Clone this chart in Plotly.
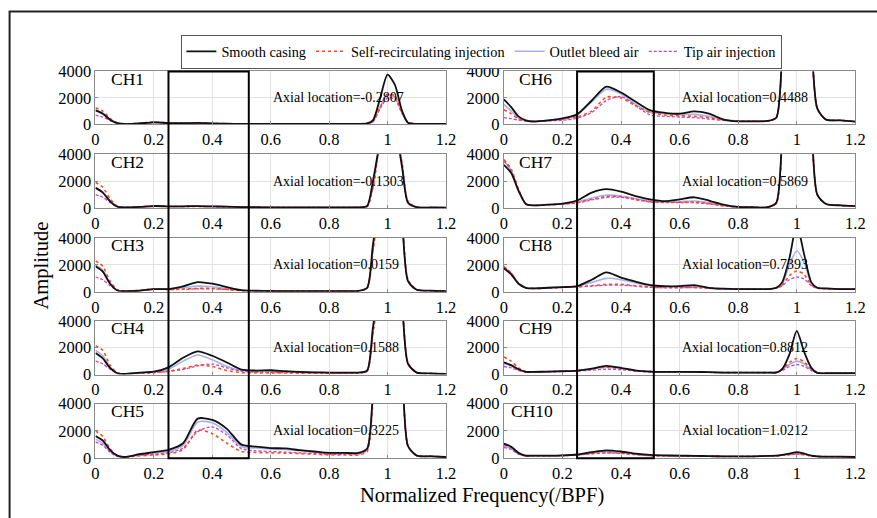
import plotly.graph_objects as go

# ---------------- data ----------------
freq = [0, 0.025, 0.05, 0.075, 0.1, 0.15, 0.2, 0.25, 0.3, 0.35, 0.4, 0.45, 0.5, 0.55, 0.6,
        0.65, 0.7, 0.75, 0.8, 0.85, 0.9, 0.93, 0.95, 0.975, 1.0, 1.025, 1.05, 1.07, 1.1, 1.15, 1.2]

channels = ["CH1", "CH2", "CH3", "CH4", "CH5", "CH6", "CH7", "CH8", "CH9", "CH10"]
axial_locations = ["-0.2807", "-0.1303", "0.0159", "0.1588", "0.3225",
                   "0.4488", "0.5869", "0.7393", "0.8812", "1.0212"]
series_names = ["Smooth casing", "Self-recirculating injection", "Outlet bleed air", "Tip air injection"]

ch1_smooth = [1050, 800, 350, 80, 20, 60, 150, 90, 80, 100, 70, 40, 30, 30, 20, 20, 20, 20, 20, 20, 30, 60, 300, 2000, 3750, 3000, 1000, 120, 30, 20, 20]
ch1_self = [1250, 1000, 450, 100, 30, 70, 170, 100, 70, 70, 60, 40, 30, 30, 20, 20, 20, 20, 20, 20, 30, 50, 200, 1300, 2300, 2150, 900, 150, 30, 20, 20]
ch1_bleed = [1100, 850, 380, 90, 30, 70, 160, 100, 70, 80, 60, 40, 30, 30, 20, 20, 20, 20, 20, 20, 30, 50, 220, 1350, 2250, 2050, 850, 130, 30, 20, 20]
ch1_tip = [700, 550, 280, 80, 30, 60, 140, 90, 60, 70, 50, 40, 30, 30, 20, 20, 20, 20, 20, 20, 30, 50, 200, 1200, 2000, 1900, 800, 130, 30, 20, 20]

ch2_smooth = [1500, 1150, 500, 100, 50, 80, 150, 120, 130, 150, 130, 100, 70, 60, 50, 40, 40, 40, 40, 40, 50, 150, 2000, 5000, 7000, 6000, 3000, 400, 60, 40, 30]
ch2_self = [1900, 1550, 700, 130, 60, 90, 170, 120, 110, 120, 110, 90, 70, 60, 50, 40, 40, 40, 40, 40, 50, 100, 1500, 5000, 7000, 6000, 3300, 500, 60, 40, 30]
ch2_bleed = [1550, 1200, 550, 110, 50, 80, 160, 120, 120, 130, 120, 90, 70, 60, 50, 40, 40, 40, 40, 40, 50, 120, 1700, 5000, 7000, 6000, 3200, 450, 60, 40, 30]
ch2_tip = [1000, 800, 400, 100, 50, 80, 150, 110, 110, 120, 110, 90, 70, 60, 50, 40, 40, 40, 40, 40, 50, 100, 1500, 5000, 7000, 6000, 3300, 500, 60, 40, 30]

ch3_smooth = [1900, 1500, 600, 100, 50, 80, 200, 200, 400, 720, 600, 350, 120, 80, 60, 50, 50, 50, 50, 50, 60, 300, 3500, 7000, 9000, 8000, 5000, 800, 150, 80, 50]
ch3_self = [2300, 1900, 800, 150, 60, 100, 220, 180, 200, 250, 250, 180, 100, 70, 60, 50, 50, 50, 50, 50, 60, 250, 3000, 7000, 9000, 8000, 5200, 900, 150, 80, 50]
ch3_bleed = [2000, 1600, 650, 120, 50, 80, 200, 200, 300, 420, 380, 250, 100, 70, 60, 50, 50, 50, 50, 50, 60, 300, 3300, 7000, 9000, 8000, 5000, 800, 150, 80, 50]
ch3_tip = [1100, 900, 450, 120, 50, 90, 200, 170, 180, 220, 220, 170, 90, 70, 60, 50, 50, 50, 50, 50, 60, 250, 3000, 7000, 9000, 8000, 5200, 900, 150, 80, 50]

ch4_smooth = [1600, 1200, 500, 100, 50, 150, 220, 540, 1250, 1730, 1400, 900, 370, 300, 320, 250, 200, 170, 150, 150, 150, 300, 3500, 7000, 9000, 8000, 5000, 800, 150, 80, 50]
ch4_self = [2150, 1800, 700, 120, 50, 100, 150, 250, 450, 700, 600, 300, 150, 130, 130, 120, 110, 100, 100, 100, 120, 250, 3000, 7000, 9000, 8000, 5200, 900, 150, 80, 50]
ch4_bleed = [1800, 1400, 550, 100, 50, 130, 200, 400, 1000, 1450, 1100, 600, 300, 250, 260, 220, 180, 150, 130, 130, 130, 300, 3300, 7000, 9000, 8000, 5000, 800, 150, 80, 50]
ch4_tip = [1000, 800, 400, 100, 50, 100, 150, 230, 380, 650, 780, 500, 250, 180, 160, 150, 130, 120, 110, 110, 120, 250, 3000, 7000, 9000, 8000, 5200, 900, 150, 80, 50]

ch5_smooth = [1620, 1300, 600, 200, 100, 300, 450, 620, 1100, 2900, 2800, 2150, 1000, 850, 750, 720, 600, 500, 400, 400, 400, 700, 4500, 8000, 10000, 9000, 6000, 900, 200, 150, 100]
ch5_self = [2000, 1600, 700, 200, 100, 180, 250, 320, 650, 2050, 1800, 1100, 500, 430, 400, 380, 350, 300, 250, 250, 250, 500, 4000, 8000, 10000, 9000, 6000, 900, 200, 150, 100]
ch5_bleed = [1400, 1100, 500, 150, 100, 250, 380, 500, 950, 2650, 2600, 1900, 850, 750, 680, 650, 550, 450, 350, 350, 350, 700, 4500, 8000, 10000, 9000, 6000, 900, 200, 150, 100]
ch5_tip = [1200, 950, 450, 150, 100, 220, 300, 400, 750, 1950, 2300, 1700, 700, 550, 500, 450, 400, 350, 300, 300, 300, 600, 4200, 8000, 10000, 9000, 6000, 900, 200, 150, 100]

ch6_smooth = [1880, 1300, 600, 300, 220, 300, 450, 750, 1800, 2850, 2400, 1700, 1050, 870, 800, 980, 800, 360, 220, 220, 250, 500, 5000, 10000, 12000, 10000, 6000, 1200, 350, 300, 200]
ch6_self = [1100, 800, 400, 250, 200, 280, 380, 550, 1000, 2050, 2000, 1400, 900, 700, 650, 600, 500, 300, 250, 250, 250, 500, 4800, 10000, 12000, 10000, 6000, 1200, 350, 300, 200]
ch6_bleed = [1500, 1000, 450, 250, 200, 280, 400, 700, 1700, 2650, 2300, 1500, 900, 800, 750, 750, 600, 350, 250, 250, 250, 500, 5000, 10000, 12000, 10000, 6000, 1200, 350, 300, 200]
ch6_tip = [500, 420, 320, 250, 200, 250, 300, 450, 900, 1800, 2100, 1400, 700, 600, 550, 500, 400, 300, 250, 250, 250, 500, 4800, 10000, 12000, 10000, 6000, 1200, 350, 300, 200]

ch7_smooth = [3200, 2600, 1300, 300, 200, 250, 330, 560, 1150, 1400, 1220, 890, 640, 510, 640, 800, 560, 250, 80, 60, 60, 400, 5000, 10000, 12000, 10000, 6000, 1000, 300, 200, 150]
ch7_self = [3600, 2900, 1400, 300, 200, 250, 300, 400, 650, 850, 850, 650, 480, 430, 430, 450, 350, 180, 80, 60, 60, 350, 4800, 10000, 12000, 10000, 6000, 1000, 300, 200, 150]
ch7_bleed = [3500, 2800, 1300, 300, 200, 250, 300, 450, 750, 950, 900, 700, 520, 450, 480, 520, 400, 200, 80, 60, 60, 400, 5000, 10000, 12000, 10000, 6000, 1000, 300, 200, 150]
ch7_tip = [3500, 2800, 1300, 300, 200, 250, 280, 380, 600, 800, 800, 620, 450, 400, 400, 400, 300, 150, 70, 60, 60, 350, 4800, 10000, 12000, 10000, 6000, 1000, 300, 200, 150]

ch8_smooth = [1750, 1300, 600, 300, 250, 300, 350, 420, 900, 1450, 1050, 750, 500, 420, 420, 500, 300, 230, 200, 200, 200, 300, 700, 2500, 5000, 2800, 700, 300, 250, 200, 200]
ch8_self = [1850, 1400, 650, 300, 250, 280, 330, 380, 450, 550, 550, 450, 350, 320, 320, 330, 280, 220, 200, 200, 200, 280, 500, 1200, 1550, 1300, 500, 280, 230, 200, 200]
ch8_bleed = [1800, 1350, 620, 300, 250, 290, 340, 400, 700, 1000, 900, 650, 430, 380, 380, 420, 290, 220, 200, 200, 200, 300, 550, 2000, 3050, 2200, 600, 300, 240, 200, 200]
ch8_tip = [1900, 1400, 650, 300, 250, 280, 320, 370, 420, 500, 500, 420, 330, 300, 300, 310, 260, 210, 200, 200, 200, 270, 450, 900, 1100, 950, 450, 270, 230, 200, 200]

ch9_smooth = [900, 700, 400, 200, 200, 220, 250, 300, 450, 650, 500, 300, 220, 200, 200, 200, 180, 150, 150, 150, 150, 150, 400, 1500, 3250, 1700, 500, 120, 100, 100, 100]
ch9_self = [1300, 1000, 500, 220, 200, 220, 250, 300, 420, 550, 450, 300, 220, 200, 200, 190, 170, 150, 150, 150, 150, 180, 400, 900, 1200, 950, 400, 150, 100, 100, 100]
ch9_bleed = [800, 650, 350, 200, 200, 210, 240, 290, 420, 550, 450, 300, 220, 200, 200, 190, 170, 150, 150, 150, 150, 170, 350, 750, 1000, 800, 350, 140, 100, 100, 100]
ch9_tip = [600, 500, 300, 200, 190, 200, 220, 260, 330, 400, 360, 260, 200, 190, 180, 170, 160, 150, 140, 140, 140, 160, 300, 600, 750, 620, 300, 140, 100, 100, 100]

ch10_smooth = [1075, 850, 400, 200, 200, 200, 220, 280, 450, 580, 500, 350, 250, 220, 200, 180, 160, 150, 150, 150, 180, 200, 250, 350, 450, 350, 200, 150, 130, 120, 100]
ch10_self = [1000, 800, 350, 180, 180, 180, 200, 250, 350, 420, 380, 280, 200, 180, 170, 160, 150, 140, 140, 140, 160, 180, 220, 280, 320, 260, 180, 140, 120, 110, 100]
ch10_bleed = [900, 720, 330, 180, 180, 180, 200, 260, 400, 500, 440, 310, 220, 200, 180, 170, 150, 140, 140, 140, 170, 190, 230, 300, 380, 300, 190, 140, 120, 110, 100]
ch10_tip = [800, 650, 300, 170, 170, 170, 190, 240, 330, 400, 360, 270, 200, 180, 170, 160, 150, 140, 140, 140, 160, 180, 210, 260, 300, 250, 170, 140, 120, 110, 100]

box_left = [0.25, 0.525]
box_right = [0.25, 0.512]
x_ticks = [0, 0.2, 0.4, 0.6, 0.8, 1, 1.2]
y_ticks = [0, 2000, 4000]

series_data = [
    (ch1_smooth, ch1_self, ch1_bleed, ch1_tip),
    (ch2_smooth, ch2_self, ch2_bleed, ch2_tip),
    (ch3_smooth, ch3_self, ch3_bleed, ch3_tip),
    (ch4_smooth, ch4_self, ch4_bleed, ch4_tip),
    (ch5_smooth, ch5_self, ch5_bleed, ch5_tip),
    (ch6_smooth, ch6_self, ch6_bleed, ch6_tip),
    (ch7_smooth, ch7_self, ch7_bleed, ch7_tip),
    (ch8_smooth, ch8_self, ch8_bleed, ch8_tip),
    (ch9_smooth, ch9_self, ch9_bleed, ch9_tip),
    (ch10_smooth, ch10_self, ch10_bleed, ch10_tip),
]

# ---------------- styles / layout ----------------
W, H = 877, 518
FONT = "Liberation Serif, Times New Roman, serif"
styles = [
    dict(color="#111111", width=1.8, dash="solid"),
    dict(color="#ff4a1c", width=1.6, dash="dot"),
    dict(color="#a9b0ea", width=1.6, dash="solid"),
    dict(color="#c044c8", width=1.3, dash="3px,2px"),
]
draw_order = [2, 3, 1, 0]

# compensation for the capture's slight rescale (measured)
SX, OX = 0.9855, 2.4
SY, OY = 0.966, 7.4


def px(t):
    """target x pixel -> paper fraction"""
    return ((t - OX) / SX) / W


def py(t):
    """target y pixel (from top) -> paper fraction"""
    return 1 - ((t - OY) / SY) / H


col_px = [(94, 445), (503, 855)]
row_px = [(70, 123), (153, 207), (237, 291), (320, 374), (403, 458)]

fig = go.Figure()
layout = dict(
    width=W, height=H,
    margin=dict(l=0, r=0, t=0, b=0),
    paper_bgcolor="white", plot_bgcolor="white",
    font=dict(family=FONT, color="black"),
    showlegend=True,
    legend=dict(orientation="h", x=px(481), xanchor="center", y=py(33), yanchor="top",
                bordercolor="#555555", borderwidth=1, font=dict(size=14.3, family=FONT),
                bgcolor="white", itemwidth=30, tracegroupgap=0),
)
annotations = []
shapes = []

for i, ch in enumerate(channels):
    col = 0 if i < 5 else 1
    row = i % 5
    n = i + 1
    xa = "x" if n == 1 else f"x{n}"
    ya = "y" if n == 1 else f"y{n}"
    xkey = "xaxis" if n == 1 else f"xaxis{n}"
    ykey = "yaxis" if n == 1 else f"yaxis{n}"
    x0, x1 = col_px[col]
    t, b = row_px[row]
    axcommon = dict(showline=True, mirror=True, linecolor="#8a8a8a", linewidth=1,
                    showgrid=True, gridcolor="#e2e2e2", gridwidth=1, zeroline=False,
                    ticks="inside", ticklen=3, tickcolor="#8a8a8a",
                    tickfont=dict(size=16.5, family=FONT, color="black"))
    layout[xkey] = dict(domain=[px(x0), px(x1)], range=[0, 1.2], tickvals=x_ticks,
                        anchor=ya, **axcommon)
    layout[ykey] = dict(domain=[py(b), py(t)], range=[0, 4000], tickvals=y_ticks,
                        exponentformat="none", anchor=xa, **axcommon)
    for k in draw_order:
        st = styles[k]
        fig.add_trace(go.Scatter(
            x=freq, y=series_data[i][k], mode="lines", name=series_names[k],
            line=dict(color=st["color"], width=st["width"], dash=st["dash"],
                      shape="spline", smoothing=0.7),
            xaxis=xa, yaxis=ya, showlegend=(i == 0), legendrank=k + 1,
            legendgroup=series_names[k], hoverinfo="skip"))
    annotations.append(dict(x=0.017 if ch == "CH10" else 0.045, y=3450, xref=xa, yref=ya,
                            text=ch, showarrow=False, xanchor="left", yanchor="middle",
                            font=dict(size=17.5, family=FONT)))
    annotations.append(dict(x=0.6, y=2000, xref=xa, yref=ya,
                            text="Axial location=" + axial_locations[i], showarrow=False,
                            xanchor="left", yanchor="middle", font=dict(size=14, family=FONT)))

# frequency window boxes
for box, xref in ((box_left, "x5"), (box_right, "x10")):
    shapes.append(dict(type="rect", xref=xref, yref="paper", x0=box[0], x1=box[1],
                       y0=py(row_px[4][1]), y1=py(row_px[0][0]),
                       line=dict(color="black", width=2), layer="above"))

# outer frame
shapes.append(dict(type="rect", xref="paper", yref="paper", x0=px(8), x1=1.1,
                   y0=-0.1, y1=py(10), line=dict(color="#222222", width=2)))

annotations.append(dict(x=px(40), y=py(265), xref="paper", yref="paper", text="Amplitude",
                        textangle=-90, showarrow=False, xanchor="center", yanchor="middle",
                        font=dict(size=20.5, family=FONT)))
annotations.append(dict(x=px(481), y=py(495), xref="paper", yref="paper",
                        text="Normalized Frequency(/BPF)", showarrow=False,
                        xanchor="center", yanchor="middle",
                        font=dict(size=20.5, family=FONT)))

layout["annotations"] = annotations
layout["shapes"] = shapes
fig.update_layout(**layout)

fig.write_html("out.html", config={"displayModeBar": False},
               post_script="document.body.style.margin='0';document.body.style.overflow='hidden';")
